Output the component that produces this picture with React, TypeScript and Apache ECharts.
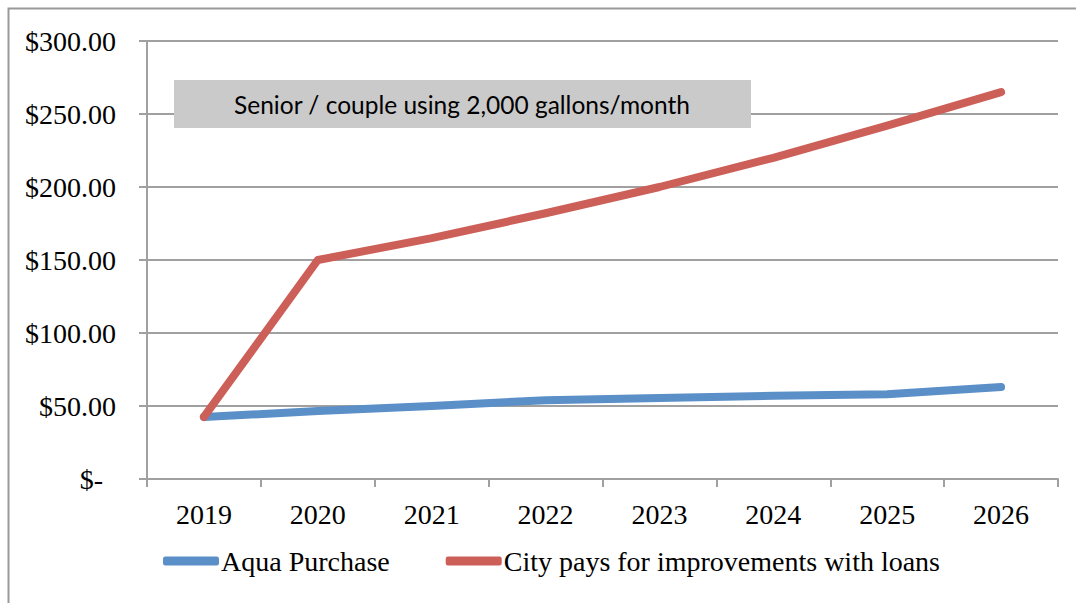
import React, { useEffect, useRef } from "react";
import * as echarts from "echarts";

const years = ["2019", "2020", "2021", "2022", "2023", "2024", "2025", "2026"];
const aquaPurchase = [42.5, 46.5, 50, 54, 55.5, 57, 58, 63];
const cityLoans = [42.5, 150, 165, 182, 200, 220, 242, 265];
const seriesNames = ["Aqua Purchase", "City pays for improvements with loans"];
const noteText = "Senior / couple using 2,000 gallons/month";

const SERIF = '"Liberation Serif", "DejaVu Serif", serif';
const SANS = 'Lato, "Open Sans", "Noto Sans", sans-serif';

export default function App() {
  const ref = useRef<HTMLDivElement>(null);
  useEffect(() => {
    document.body.style.margin = "0";
    const chart = echarts.init(ref.current!, null, { renderer: "svg" });
    chart.setOption({
      animation: false,
      backgroundColor: "#ffffff",
      grid: { left: 147, right: 18, top: 41, bottom: 124, containLabel: false },
      legend: {
        left: 158,
        top: 542,
        itemWidth: 56,
        itemHeight: 9,
        itemGap: 56,
        icon: "roundRect",
        textStyle: { fontFamily: SERIF, fontSize: 28, color: "#000", padding: [0, 0, 0, -3] },
        data: seriesNames,
      },
      xAxis: {
        type: "category",
        data: years,
        boundaryGap: true,
        axisLine: { show: true, lineStyle: { color: "#a0a0a0", width: 2 } },
        axisTick: { show: true, length: 8, lineStyle: { color: "#a0a0a0", width: 2 } },
        axisLabel: { fontFamily: SERIF, fontSize: 28, color: "#000", margin: 21 },
      },
      yAxis: {
        type: "value",
        min: 0,
        max: 300,
        interval: 50,
        axisLine: { show: true, lineStyle: { color: "#a0a0a0", width: 2 } },
        axisTick: { show: true, length: 8, lineStyle: { color: "#a0a0a0", width: 2 } },
        splitLine: { show: true, lineStyle: { color: "#a0a0a0", width: 2 } },
        axisLabel: {
          fontFamily: SERIF,
          fontSize: 28,
          color: "#000",
          margin: 31,
          formatter: (v: number) => (v === 0 ? "{z|$-}" : "$" + v.toFixed(2)),
          rich: { z: { fontFamily: SERIF, fontSize: 28, color: "#000", padding: [0, 13, 0, 0] } },
        },
      },
      series: [
        {
          name: seriesNames[0],
          type: "line",
          data: aquaPurchase,
          symbol: "none",
          color: "#5b8fc8",
          lineStyle: { width: 8, cap: "round", join: "round", color: "#5b8fc8" },
          z: 2,
        },
        {
          name: seriesNames[1],
          type: "line",
          data: cityLoans,
          symbol: "none",
          color: "#cc5f58",
          lineStyle: { width: 8, cap: "round", join: "round", color: "#cc5f58" },
          z: 3,
        },
      ],
      graphic: [
        {
          type: "rect",
          left: 6,
          top: 6,
          shape: { x: 0, y: 0, width: 1090, height: 620 },
          style: { fill: "none", stroke: "#999999", lineWidth: 2 },
          silent: true,
          z: 0,
        },
        {
          type: "rect",
          x: 174,
          y: 80,
          z: 20,
          shape: { x: 0, y: 0, width: 577, height: 48 },
          style: { fill: "#cacaca" },
        },
        {
          type: "text",
          x: 462,
          y: 104,
          z: 21,
          style: {
            text: noteText,
            fontFamily: SANS,
            fontSize: 24.5,
            fill: "#000",
            align: "center",
            verticalAlign: "middle",
          },
        },
      ],
    });
    return () => chart.dispose();
  }, []);
  return <div ref={ref} style={{ width: 1076, height: 603 }} />;
}
